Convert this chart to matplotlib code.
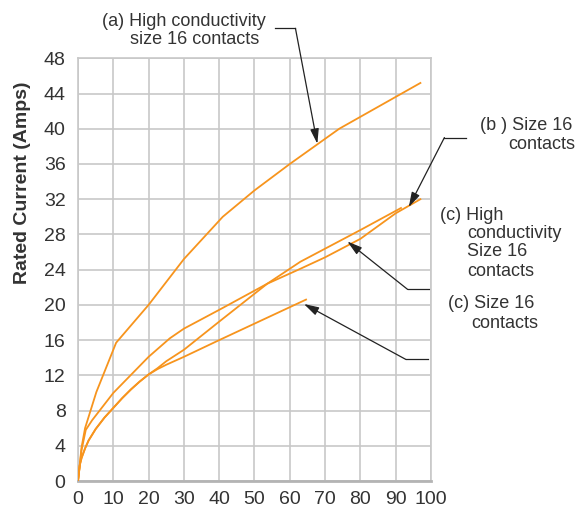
import matplotlib.pyplot as plt

# data (x in %, y in Amps)
a_x = [0, 1, 2, 5.2, 10.8, 20, 30, 41, 50, 60, 74, 97]
a_y = [0, 3.8, 6.0, 10.1, 15.7, 20.0, 25.2, 30.0, 33.0, 36.0, 40.0, 45.2]

b_x = [0, 1, 2.2, 4, 10, 20, 26, 30, 40.3, 53.6, 63, 70, 80, 90, 97]
b_y = [0, 3.5, 5.8, 6.9, 10.0, 14.1, 16.2, 17.3, 19.5, 22.4, 24.1, 25.4, 27.5, 30.4, 32.0]

chc_x = [0, 0.5, 1, 2, 3, 5, 7.5, 10, 12.5, 15, 17.5, 20, 22.5, 25, 30, 40, 53.6, 63, 80, 91.5]
chc_y = [0, 1.8, 2.6, 3.7, 4.6, 5.9, 7.2, 8.3, 9.4, 10.4, 11.3, 12.1, 12.8, 13.6, 14.9, 18.1, 22.4, 24.9, 28.5, 31.0]

c_x = [0, 0.5, 1, 2, 3, 5, 7.5, 10, 12.5, 15, 17.5, 20, 22.5, 25, 30, 40, 64.6]
c_y = [0, 1.8, 2.6, 3.7, 4.6, 5.9, 7.2, 8.3, 9.4, 10.4, 11.3, 12.1, 12.7, 13.2, 14.1, 16.0, 20.6]

xticks = list(range(0, 101, 10))
yticks = list(range(0, 49, 4))

orange = '#f7941d'
txt = '#333333'
grey = '#c8c8c8'

plt.rcParams['font.family'] = ['Liberation Sans', 'DejaVu Sans']

fig = plt.figure(figsize=(5.85, 5.08), dpi=100)
ax = fig.add_axes([78 / 585, 1 - 481 / 508, 353 / 585, (481 - 58.3) / 508])

for xs, ys in [(a_x, a_y), (b_x, b_y), (chc_x, chc_y), (c_x, c_y)]:
    ax.plot(xs, ys, color=orange, lw=1.3, zorder=3)

ax.set_xlim(0, 100)
ax.set_ylim(0, 48)
ax.set_xticks(xticks)
ax.set_yticks(yticks)
ax.grid(True, color=grey, lw=1.2)
ax.set_axisbelow(True)
ax.tick_params(length=0, labelsize=14, labelcolor=txt)
ax.tick_params(axis='y', pad=9)
ax.tick_params(axis='x', pad=7)
for s in ax.spines.values():
    s.set_color(grey)
    s.set_linewidth(1.2)
ax.spines['bottom'].set_linewidth(2)
ax.spines['bottom'].set_color('#b4b4b4')

fig.text(23 / 585, 1 - 183 / 508, 'Rated Current (Amps)', rotation=90,
         ha='center', va='center', fontsize=14, fontweight='bold', color=txt)

# leader lines: horizontal part then arrow
leaders = [
    ((55.9, 51.4), (61.6, 51.4), (67.8, 38.3)),
    ((110.0, 39.0), (103.8, 39.0), (93.7, 31.1)),
    ((99.5, 21.75), (93.4, 21.75), (76.3, 27.2)),
    ((99.1, 13.8), (92.9, 13.8), (64.0, 20.1)),
]
for p0, p1, tip in leaders:
    ax.plot([p0[0], p1[0]], [p0[1], p1[1]], color='#222222', lw=0.9, clip_on=False)
    ax.annotate('', xy=tip, xytext=p1, annotation_clip=False,
                arrowprops=dict(arrowstyle='-|>,head_length=0.9,head_width=0.26',
                                color='#222222', lw=0.9, shrinkA=0, shrinkB=0))

def label(px, py, s):
    fig.text(px / 585, 1 - py / 508, s, ha='left', va='center', fontsize=13, color=txt)

label(102, 21, '(a) High conductivity')
label(130, 40, 'size 16 contacts')
label(480, 125, '(b ) Size 16')
label(508, 145, 'contacts')
label(440, 215, '(c) High')
label(467, 233, 'conductivity')
label(467, 252, 'Size 16')
label(467, 271, 'contacts')
label(448, 303, '(c) Size 16')
label(471, 323, 'contacts')

fig.savefig('out.png', dpi=100)
